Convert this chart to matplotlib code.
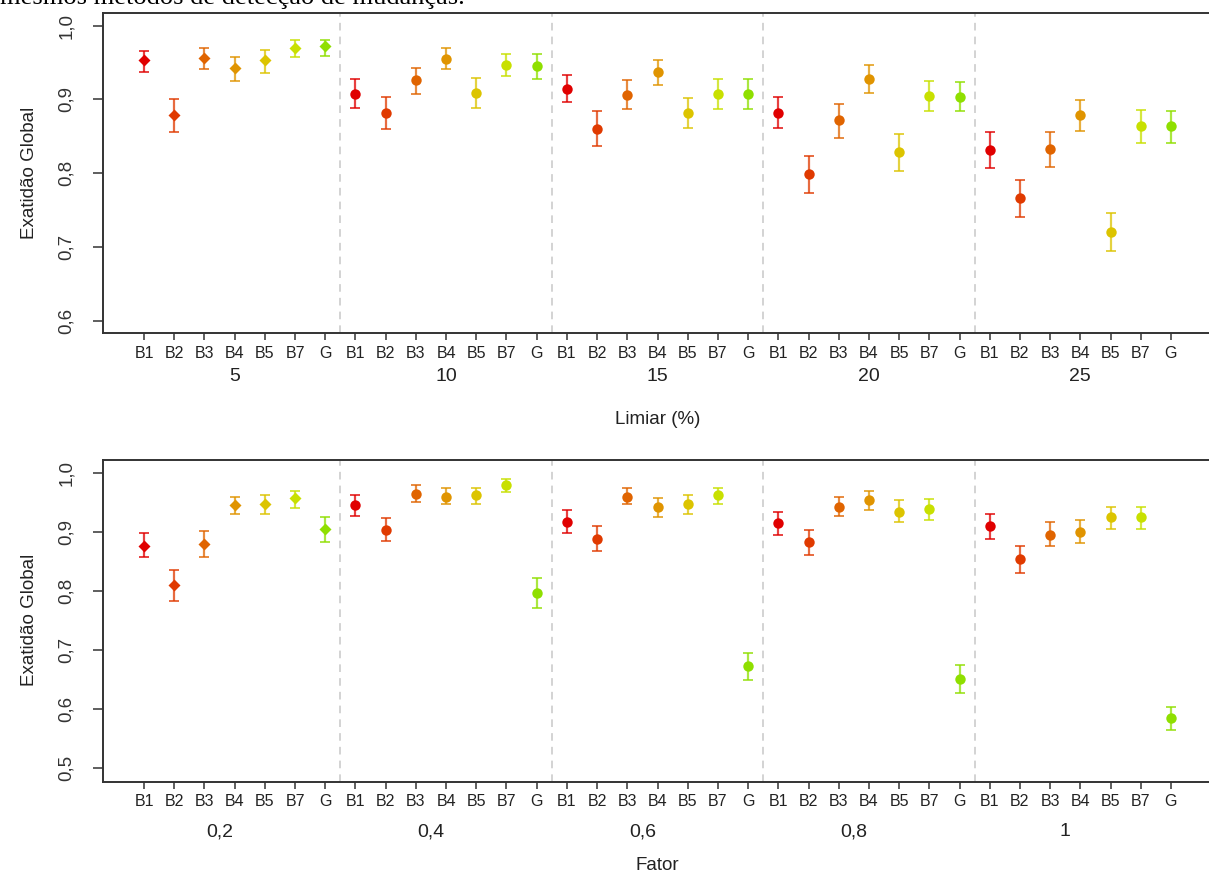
import matplotlib
matplotlib.use("Agg")
import matplotlib.pyplot as plt
import numpy as np

methods = ["B1", "B2", "B3", "B4", "B5", "B7", "G"]
colors = ["#E00000", "#E03A00", "#E06400", "#E09400", "#DCC400", "#C8E000", "#8FDF00"]

limiar_groups = ["5", "10", "15", "20", "25"]
limiar_mean = [
    [0.953, 0.879, 0.956, 0.942, 0.953, 0.970, 0.972],
    [0.908, 0.882, 0.926, 0.955, 0.909, 0.947, 0.945],
    [0.914, 0.860, 0.906, 0.937, 0.882, 0.908, 0.908],
    [0.882, 0.799, 0.872, 0.928, 0.829, 0.905, 0.903],
    [0.831, 0.766, 0.833, 0.879, 0.720, 0.864, 0.864],
]
limiar_low = [
    [0.937, 0.856, 0.941, 0.925, 0.936, 0.957, 0.959],
    [0.889, 0.860, 0.908, 0.941, 0.889, 0.932, 0.928],
    [0.896, 0.837, 0.887, 0.920, 0.862, 0.887, 0.887],
    [0.862, 0.773, 0.848, 0.909, 0.803, 0.884, 0.884],
    [0.807, 0.741, 0.809, 0.857, 0.695, 0.841, 0.841],
]
limiar_high = [
    [0.966, 0.901, 0.969, 0.957, 0.967, 0.981, 0.981],
    [0.928, 0.904, 0.943, 0.969, 0.929, 0.962, 0.961],
    [0.933, 0.884, 0.926, 0.954, 0.902, 0.928, 0.928],
    [0.904, 0.823, 0.894, 0.947, 0.853, 0.925, 0.923],
    [0.856, 0.791, 0.856, 0.899, 0.746, 0.886, 0.884],
]

fator_groups = ["0,2", "0,4", "0,6", "0,8", "1"]
fator_mean = [
    [0.877, 0.811, 0.880, 0.946, 0.948, 0.957, 0.905],
    [0.945, 0.904, 0.964, 0.960, 0.962, 0.979, 0.797],
    [0.917, 0.889, 0.960, 0.943, 0.947, 0.962, 0.673],
    [0.915, 0.883, 0.943, 0.954, 0.934, 0.939, 0.651],
    [0.911, 0.855, 0.895, 0.900, 0.926, 0.926, 0.585],
]
fator_low = [
    [0.858, 0.784, 0.858, 0.930, 0.930, 0.941, 0.884],
    [0.928, 0.885, 0.951, 0.947, 0.947, 0.968, 0.771],
    [0.898, 0.868, 0.947, 0.925, 0.930, 0.947, 0.649],
    [0.895, 0.862, 0.928, 0.938, 0.917, 0.921, 0.628],
    [0.889, 0.831, 0.876, 0.881, 0.906, 0.906, 0.565],
]
fator_high = [
    [0.898, 0.836, 0.901, 0.960, 0.963, 0.969, 0.925],
    [0.962, 0.924, 0.979, 0.975, 0.975, 0.990, 0.823],
    [0.937, 0.911, 0.975, 0.958, 0.962, 0.975, 0.696],
    [0.934, 0.904, 0.960, 0.969, 0.954, 0.956, 0.675],
    [0.930, 0.877, 0.917, 0.921, 0.943, 0.943, 0.604],
]

W, H = 1209, 877
fig = plt.figure(figsize=(W / 100, H / 100), dpi=100)
plt.rcParams["font.family"] = ["Liberation Sans", "DejaVu Sans"]


def px_axes(left, top, right, bottom):
    return fig.add_axes([left / W, 1 - bottom / H, (right - left) / W, (bottom - top) / H])


def draw_panel(ax, groups, mean, low, high, ylim, yticks, group_offset, group_shift):
    n = len(methods)
    for g in range(len(groups)):
        for m in range(n):
            x = g * n + m + 1
            y = mean[g][m]
            err = [[y - low[g][m]], [high[g][m] - y]]
            if g == 0:
                mk, ms = "D", 6
            else:
                mk, ms = "o", 7.5
            ax.errorbar([x], [y], yerr=err, fmt="none", ecolor=colors[m], alpha=0.75,
                        elinewidth=1.6, capsize=3.5, capthick=1.4, zorder=2)
            ax.plot([x], [y], marker=mk, ms=ms, color=colors[m], mec="none", zorder=3)
    for g in range(1, len(groups)):
        ax.axvline(g * n + 0.5, color="#C8C8C8", lw=1.1, ls=(0, (5, 4)), zorder=1)
    total = n * len(groups)
    ax.set_xlim(1 - 0.04 * (total - 1), total + 0.04 * (total - 1))
    ax.set_ylim(*ylim)
    ax.set_xticks(np.arange(1, total + 1))
    ax.set_xticklabels(methods * len(groups), fontsize=11.5, color="#222222")
    ax.tick_params(axis="x", length=5, width=1.1, pad=4, color="#333333")
    ax.set_yticks(yticks)
    ax.set_yticklabels([f"{t:.1f}".replace(".", ",") for t in yticks], rotation=90,
                       va="center", fontsize=13.5, color="#333333")
    ax.tick_params(axis="y", length=7, width=1.1, pad=13, color="#333333")
    for s in ["top", "left", "bottom", "right"]:
        ax.spines[s].set_color("#333333")
        ax.spines[s].set_linewidth(1.4)
    for g, lab in enumerate(groups):
        xg = g * n + 1 + group_shift
        ax.annotate(lab, xy=(xg, 0), xycoords=("data", "axes fraction"),
                    xytext=(0, -group_offset), textcoords="offset points",
                    ha="center", va="center", fontsize=14, color="#222222")


ax1 = px_axes(103, 13, 1212, 333)
draw_panel(ax1, limiar_groups, limiar_mean, limiar_low, limiar_high,
           (0.584, 1.017), [0.6, 0.7, 0.8, 0.9, 1.0], 31, 3)

ax2 = px_axes(103, 460, 1212, 782)
draw_panel(ax2, fator_groups, fator_mean, fator_low, fator_high,
           (0.477, 1.022), [0.5, 0.6, 0.7, 0.8, 0.9, 1.0], 36, 2.5)

fig.text(658 / W, 1 - 420 / H, "Limiar (%)", ha="center", va="center", fontsize=13.5, color="#222222")
fig.text(657 / W, 1 - 866 / H, "Fator", ha="center", va="center", fontsize=13.5, color="#222222")
fig.text(29 / W, 1 - 173 / H, "Exatidão Global", rotation=90, ha="center", va="center",
         fontsize=13.5, color="#222222")
fig.text(29 / W, 1 - 620 / H, "Exatidão Global", rotation=90, ha="center", va="center",
         fontsize=13.5, color="#222222")

fig.text(0, 1 - 4 / H, "mesmos métodos de detecção de mudanças.", ha="left", va="baseline",
         fontsize=19, family=["Liberation Serif", "DejaVu Serif"], color="black")

fig.savefig("out.png", dpi=100)
